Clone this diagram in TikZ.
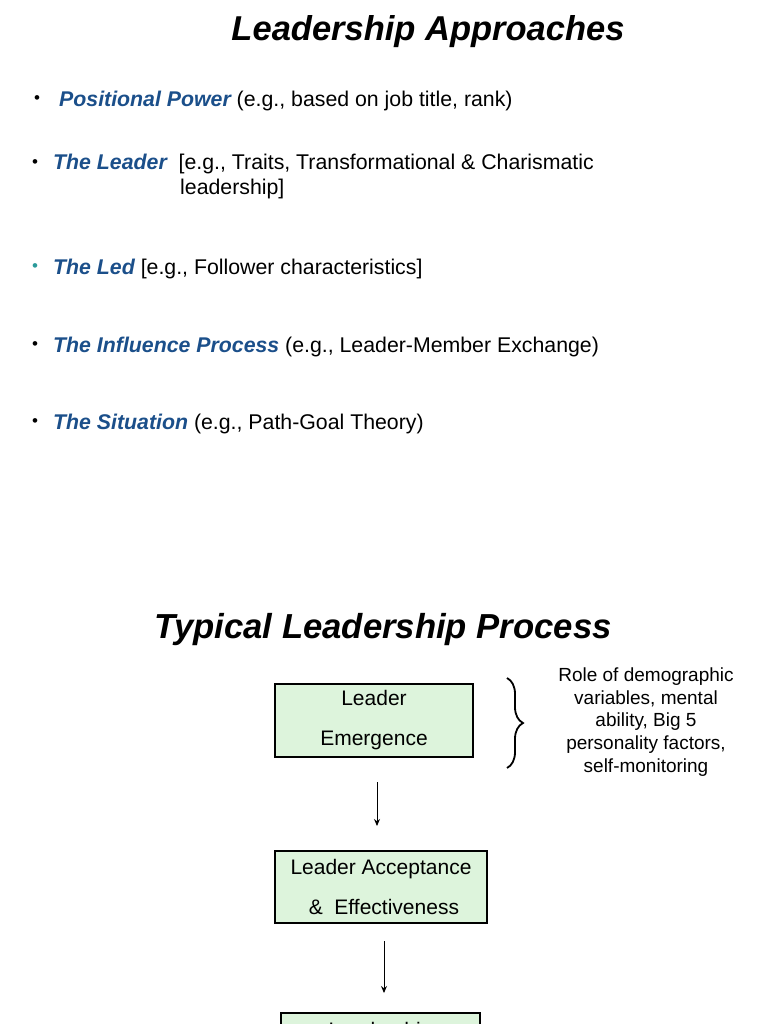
\documentclass[tikz,border=0pt]{standalone}
\usepackage{fontspec}
\setmainfont{Liberation Sans}
\usetikzlibrary{decorations.pathreplacing,arrows.meta}
\definecolor{dblue}{HTML}{1B4F8A}
\definecolor{teal2}{HTML}{2A9A9A}
\definecolor{boxg}{HTML}{DDF4DC}
\newcommand{\hdx}[1]{{\bfseries\itshape\color{dblue}#1}}
\begin{document}
\begin{tikzpicture}[x=1pt,y=-1pt,
  item/.style={anchor=west,font=\fontsize{21.3}{25}\selectfont,inner sep=0},
  bul/.style={anchor=center,font=\fontsize{17}{17}\selectfont,inner sep=0},
  box/.style={draw,line width=1.5pt,fill=boxg,font=\fontsize{21}{22}\selectfont,align=center,inner sep=0},
  arr/.style={-{Stealth[length=7pt,width=6pt]},line width=1pt}]
\useasboundingbox (0,0) rectangle (768,1024);
\clip (0,0) rectangle (768,1024);
\node[font=\fontsize{34.5}{36}\selectfont\bfseries\itshape] (t1) at (428,32) {Leadership Approaches};
\node[bul] (b1) at (37,100) {•};
\node[item] (i1) at (59,101) {\hdx{Positional Power} (e.g., based on job title, rank)};
\node[bul] (b2) at (35,164) {•};
\node[item,align=left,anchor=north west] (i2) at (53,154) {\hdx{The Leader}\ \ [e.g., Traits, Transformational \& Charismatic\\\hspace*{127pt}leadership]};
\node[bul,text=teal2] (b3) at (35,268) {•};
\node[item] (i3) at (53,269) {\hdx{The Led} [e.g., Follower characteristics]};
\node[bul] (b4) at (35,346) {•};
\node[item] (i4) at (53,347) {\hdx{The Influence Process} (e.g., Leader-Member Exchange)};
\node[bul] (b5) at (35,423) {•};
\node[item] (i5) at (53,424) {\hdx{The Situation} (e.g., Path-Goal Theory)};
\node[font=\fontsize{34.7}{36}\selectfont\bfseries\itshape] (t2) at (383,630) {Typical Leadership Process};
\node[box,minimum width=198pt,minimum height=73pt] (n1) at (374,720.5) {Leader\\[18pt]Emergence};
\node[box,minimum width=212pt,minimum height=72pt] (n2) at (381,887) {Leader Acceptance\\[18pt]\ \&\ \ Effectiveness};
\node[box,minimum width=199pt,minimum height=73pt,anchor=north] (n3) at (380.5,1012) {\raisebox{38pt}{Leadership}};
\draw[decorate,decoration={brace,amplitude=16pt},line width=1.8pt] (507,678) -- (507,768);
\node[align=center,font=\fontsize{19}{22.8}\selectfont] (note) at (646,722) {Role of demographic\\variables, mental\\ability, Big 5\\personality factors,\\self-monitoring};
\coordinate (a1s) at (377,782); \coordinate (a1e) at (377,826);
\coordinate (a2s) at (384,941); \coordinate (a2e) at (384,993);
\draw[arr] (a1s) -- (a1e);
\draw[arr] (a2s) -- (a2e);
\end{tikzpicture}
\end{document}
